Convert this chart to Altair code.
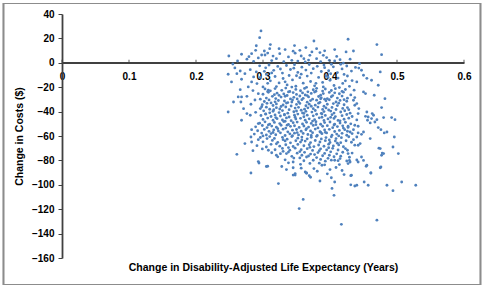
import altair as alt
import pandas as pd

# Tick values
x_ticks = [0, 0.1, 0.2, 0.3, 0.4, 0.5, 0.6]
y_ticks = [-160, -140, -120, -100, -80, -60, -40, -20, 0, 20, 40]

# Points: (change in DALE years, change in cost $)
above_zero = [
    (0.297, 26.1), (0.295, 20.6), (0.311, 14.9), (0.249, 5.6), (0.268, 7.0), (0.283, 7.5),
    (0.289, 10.2), (0.302, 9.7), (0.307, 8.0), (0.303, 6.4), (0.298, 6.4), (0.310, 11.6),
    (0.324, 11.6), (0.333, 10.8), (0.325, 7.5), (0.364, 12.5), (0.357, 5.6), (0.338, 4.8),
    (0.320, 3.4), (0.343, 2.0), (0.361, 3.4), (0.363, 0.7), (0.427, 19.3), (0.470, 14.9),
    (0.477, 6.7), (0.407, 10.8), (0.424, 8.9), (0.435, 9.7), (0.376, 17.9), (0.380, 11.6),
    (0.385, 8.4), (0.390, 6.1), (0.395, 4.3), (0.373, 8.9), (0.370, 6.1), (0.380, 3.4),
    (0.399, 2.0), (0.407, 1.5), (0.415, 2.6), (0.420, -0.2), (0.444, -0.7), (0.402, -1.2),
    (0.262, 1.5), (0.276, 3.0), (0.286, 1.2), (0.293, 4.0), (0.313, 1.8), (0.331, 0.9),
    (0.348, 7.9), (0.352, 1.4), (0.315, 5.5), (0.345, 9.5), (0.355, 10.2), (0.368, 2.2),
    (0.386, 1.0), (0.392, 9.8), (0.410, 5.2), (0.430, 3.0), (0.347, 14.1), (0.290, 14.0),
    (0.279, 5.0), (0.255, -1.0),
]

band_0_20 = [
    (0.248, -9.4), (0.253, -15.7), (0.261, -8.9), (0.266, -6.7), (0.273, -8.9), (0.281, -5.6),
    (0.286, -11.6), (0.290, -7.5), (0.278, -19.8), (0.283, -15.7), (0.300, -19.8),
    (0.295, -2.5), (0.304, -4.1), (0.309, -1.8), (0.316, -6.2), (0.322, -3.0), (0.329, -8.4),
    (0.335, -2.2), (0.341, -5.5), (0.347, -1.5), (0.352, -7.9), (0.358, -3.6), (0.364, -6.0),
    (0.369, -1.4), (0.375, -4.8), (0.381, -2.9), (0.387, -7.1), (0.392, -4.0), (0.398, -6.5),
    (0.405, -3.3), (0.411, -8.0), (0.418, -5.0), (0.425, -2.6), (0.432, -6.8), (0.438, -3.8),
    (0.475, -7.5), (0.447, -6.1), (0.450, -10.2), (0.440, -15.7), (0.472, -18.4), (0.462, -14.3),
    (0.296, -12.0), (0.305, -9.5), (0.311, -14.8), (0.318, -11.2), (0.324, -16.5), (0.330, -12.9),
    (0.336, -18.1), (0.339, -10.4), (0.344, -14.0), (0.349, -19.2), (0.355, -12.2), (0.360, -16.7),
    (0.366, -10.9), (0.371, -15.3), (0.377, -18.9), (0.383, -12.0), (0.389, -16.1), (0.394, -10.6),
    (0.400, -14.4), (0.406, -18.6), (0.412, -12.5), (0.419, -16.9), (0.426, -10.8), (0.433, -14.6),
    (0.455, -12.7), (0.429, -19.3), (0.414, -20.3), (0.390, -19.8), (0.365, -20.1), (0.343, -19.9),
    (0.320, -19.5), (0.307, -16.8), (0.291, -17.0), (0.268, -13.5), (0.258, -4.2), (0.302, -7.0),
    (0.326, -5.1), (0.350, -10.6), (0.372, -8.4), (0.397, -11.8), (0.421, -9.5), (0.443, -4.3),
    (0.313, -8.3), (0.333, -15.6), (0.357, -9.3), (0.379, -16.8), (0.401, -9.0), (0.423, -14.8),
    (0.346, -4.4), (0.391, -1.9), (0.416, -1.2),
]

band_20_40 = [
    (0.266, -22.0), (0.276, -27.5), (0.293, -25.3), (0.308, -22.5), (0.263, -28.0), (0.268, -28.0),
    (0.256, -32.1), (0.267, -32.1), (0.271, -37.6), (0.248, -40.3), (0.282, -34.0), (0.288, -30.5),
    (0.285, -22.8), (0.298, -36.0), (0.296, -29.8),
    (0.303, -21.4), (0.311, -23.0), (0.318, -21.1), (0.328, -22.6), (0.334, -20.7), (0.340, -23.5),
    (0.349, -21.8), (0.356, -22.9), (0.362, -21.0), (0.367, -23.8), (0.375, -22.1), (0.380, -20.9),
    (0.389, -23.2), (0.393, -21.5), (0.402, -22.7), (0.408, -21.2), (0.418, -23.4), (0.423, -21.9),
    (0.436, -22.4),
    (0.300, -25.8), (0.308, -24.2), (0.317, -26.1), (0.321, -24.9), (0.331, -25.5), (0.336, -26.8),
    (0.345, -24.4), (0.350, -25.9), (0.359, -24.7), (0.363, -26.4), (0.372, -25.1), (0.377, -24.0),
    (0.386, -26.6), (0.390, -25.2), (0.399, -24.3), (0.404, -26.9), (0.414, -25.4), (0.420, -24.1),
    (0.431, -26.3), (0.450, -23.9), (0.453, -25.2),
    (0.305, -28.9), (0.314, -27.5), (0.319, -29.3), (0.327, -28.1), (0.333, -27.4), (0.341, -29.6),
    (0.346, -28.3), (0.355, -27.2), (0.360, -29.1), (0.368, -28.0), (0.374, -29.8), (0.383, -27.6),
    (0.387, -28.7), (0.396, -29.4), (0.402, -27.8), (0.411, -28.9), (0.418, -27.3), (0.426, -29.0),
    (0.437, -28.5), (0.466, -26.6),
    (0.302, -31.7), (0.309, -30.4), (0.318, -32.0), (0.323, -30.9), (0.332, -31.3), (0.337, -32.6),
    (0.344, -30.5), (0.353, -31.9), (0.358, -30.2), (0.366, -32.3), (0.371, -31.0), (0.380, -30.6),
    (0.385, -32.4), (0.394, -31.2), (0.399, -30.3), (0.409, -32.1), (0.415, -30.8), (0.425, -31.5),
    (0.435, -30.7), (0.482, -29.4),
    (0.299, -34.3), (0.306, -33.2), (0.315, -35.0), (0.320, -33.7), (0.330, -34.6), (0.335, -33.0),
    (0.342, -35.4), (0.350, -34.1), (0.355, -33.3), (0.364, -35.2), (0.369, -33.9), (0.378, -34.7),
    (0.383, -33.1), (0.391, -35.6), (0.396, -34.0), (0.405, -33.4), (0.411, -35.1), (0.421, -34.4),
    (0.437, -34.8), (0.440, -33.4),
    (0.296, -37.5), (0.305, -36.4), (0.310, -38.1), (0.320, -36.8), (0.325, -37.9), (0.334, -36.2),
    (0.339, -38.4), (0.348, -37.1), (0.353, -36.5), (0.362, -38.0), (0.367, -36.9), (0.375, -37.6),
    (0.382, -36.3), (0.389, -38.2), (0.394, -37.0), (0.403, -36.6), (0.409, -38.3), (0.419, -37.4),
    (0.426, -36.7), (0.443, -37.5), (0.477, -36.7),
    (0.289, -40.6), (0.301, -39.4), (0.310, -41.0), (0.315, -39.7), (0.324, -40.8), (0.329, -39.2),
    (0.337, -41.3), (0.346, -40.1), (0.350, -39.5), (0.359, -41.1), (0.364, -39.8), (0.373, -40.4),
    (0.378, -39.1), (0.387, -41.4), (0.391, -40.0), (0.401, -39.6), (0.406, -41.2), (0.416, -40.3),
    (0.422, -39.3), (0.455, -40.3),
    (0.307, -23.6), (0.324, -26.7), (0.338, -23.9), (0.351, -29.6), (0.366, -26.9), (0.379, -23.3),
    (0.392, -29.8), (0.407, -24.6), (0.421, -30.2), (0.312, -32.9), (0.327, -35.8), (0.343, -32.2),
    (0.357, -38.9), (0.372, -35.6), (0.386, -29.5), (0.398, -38.7), (0.413, -33.1), (0.428, -38.4),
    (0.316, -38.5),
]

band_40_60 = [
    (0.276, -41.6), (0.281, -43.0), (0.268, -47.1), (0.283, -54.8), (0.293, -49.8), (0.442, -41.6),
    (0.457, -44.4), (0.462, -45.7), (0.456, -47.1), (0.465, -43.0), (0.467, -48.5), (0.460, -49.3),
    (0.463, -41.6), (0.453, -43.9), (0.470, -46.6), (0.480, -44.9), (0.492, -44.9), (0.497, -46.6),
    (0.472, -53.1), (0.476, -54.8), (0.485, -56.7), (0.481, -57.5), (0.447, -58.6), (0.450, -56.7),
    (0.442, -57.5), (0.437, -51.2), (0.442, -52.0), (0.427, -52.0), (0.435, -54.8), (0.430, -56.7),
    (0.433, -58.0),
    (0.297, -43.2), (0.304, -42.1), (0.312, -44.0), (0.318, -42.7), (0.326, -43.6), (0.332, -42.3),
    (0.339, -44.4), (0.347, -43.0), (0.352, -42.0), (0.361, -44.2), (0.366, -42.9), (0.375, -43.5),
    (0.380, -42.2), (0.388, -44.6), (0.393, -43.1), (0.403, -42.5), (0.408, -44.1), (0.418, -43.3),
    (0.425, -42.4), (0.433, -44.0),
    (0.300, -46.4), (0.307, -45.3), (0.315, -47.1), (0.321, -45.8), (0.329, -46.9), (0.335, -45.2),
    (0.342, -47.4), (0.349, -46.1), (0.356, -45.5), (0.363, -47.0), (0.369, -45.9), (0.377, -46.6),
    (0.384, -45.1), (0.391, -47.3), (0.397, -46.0), (0.406, -45.6), (0.412, -47.2), (0.421, -46.3),
    (0.428, -45.4), (0.440, -46.8),
    (0.295, -49.5), (0.303, -48.4), (0.310, -50.2), (0.317, -48.9), (0.325, -49.8), (0.331, -48.2),
    (0.338, -50.5), (0.345, -49.1), (0.351, -48.6), (0.359, -50.1), (0.365, -48.8), (0.372, -49.7),
    (0.379, -48.3), (0.386, -50.4), (0.392, -49.0), (0.400, -48.5), (0.407, -50.3), (0.415, -49.4),
    (0.423, -48.7), (0.431, -50.0),
    (0.289, -52.5), (0.299, -51.4), (0.306, -53.1), (0.313, -51.9), (0.320, -52.8), (0.327, -51.2),
    (0.334, -53.5), (0.341, -52.1), (0.347, -51.6), (0.354, -53.0), (0.361, -51.8), (0.368, -52.7),
    (0.375, -51.3), (0.382, -53.4), (0.389, -52.0), (0.396, -51.5), (0.404, -53.2), (0.411, -52.3),
    (0.419, -51.7), (0.427, -53.0),
    (0.292, -55.7), (0.302, -54.6), (0.309, -56.2), (0.316, -55.0), (0.323, -56.0), (0.330, -54.4),
    (0.337, -56.6), (0.344, -55.2), (0.350, -54.7), (0.357, -56.1), (0.364, -54.9), (0.371, -55.8),
    (0.378, -54.3), (0.385, -56.5), (0.392, -55.1), (0.399, -54.5), (0.407, -56.3), (0.414, -55.4),
    (0.422, -54.8),
    (0.287, -58.4), (0.298, -57.6), (0.305, -59.2), (0.312, -58.0), (0.319, -59.0), (0.326, -57.4),
    (0.333, -59.6), (0.340, -58.2), (0.347, -57.7), (0.353, -59.1), (0.360, -57.9), (0.367, -58.8),
    (0.374, -57.3), (0.381, -59.5), (0.388, -58.1), (0.395, -57.5), (0.403, -59.3), (0.410, -58.4),
    (0.418, -57.8), (0.425, -59.4),
    (0.304, -41.8), (0.319, -44.9), (0.333, -47.9), (0.348, -44.6), (0.361, -41.5), (0.374, -47.8),
    (0.388, -41.9), (0.401, -44.7), (0.415, -47.6), (0.430, -41.3), (0.308, -50.9), (0.322, -54.0),
    (0.336, -51.1), (0.351, -57.2), (0.365, -53.9), (0.379, -50.7), (0.393, -57.0), (0.406, -51.0),
    (0.420, -53.5), (0.332, -42.7),
]

band_60_80 = [
    (0.282, -60.8), (0.273, -66.2), (0.261, -75.0), (0.283, -64.9), (0.293, -63.0), (0.306, -62.1),
    (0.308, -71.7), (0.320, -75.8), (0.335, -74.4), (0.358, -75.8), (0.365, -77.2), (0.375, -79.9),
    (0.496, -60.8), (0.460, -62.1), (0.475, -70.3), (0.480, -74.4), (0.477, -75.8), (0.494, -69.0),
    (0.502, -74.4), (0.445, -66.2), (0.442, -67.6), (0.426, -71.7), (0.427, -74.4), (0.440, -60.8),
    (0.435, -63.0), (0.285, -72.0), (0.478, -74.0), (0.473, -70.0), (0.447, -77.2), (0.305, -69.0),
    (0.296, -61.2), (0.310, -60.5), (0.317, -62.0), (0.329, -61.1), (0.336, -62.6), (0.343, -60.4),
    (0.352, -61.8), (0.358, -60.9), (0.366, -62.3), (0.372, -61.0), (0.380, -60.3), (0.387, -62.4),
    (0.394, -61.3), (0.402, -60.7), (0.409, -62.1), (0.417, -61.4), (0.428, -60.6),
    (0.300, -64.8), (0.314, -63.6), (0.322, -65.2), (0.333, -64.0), (0.341, -65.6), (0.349, -63.9),
    (0.356, -65.0), (0.363, -64.2), (0.371, -65.4), (0.378, -63.7), (0.385, -64.9), (0.393, -63.8),
    (0.400, -65.3), (0.408, -64.1), (0.416, -65.5), (0.424, -63.9), (0.432, -65.1),
    (0.291, -67.9), (0.312, -66.8), (0.325, -68.3), (0.334, -67.2), (0.345, -68.6), (0.352, -66.9),
    (0.361, -68.0), (0.369, -67.1), (0.376, -68.7), (0.383, -67.4), (0.391, -68.4), (0.398, -66.7),
    (0.405, -68.1), (0.413, -67.3), (0.420, -68.8), (0.437, -67.5),
    (0.299, -70.6), (0.318, -71.3), (0.329, -70.2), (0.340, -71.6), (0.348, -70.0), (0.357, -71.2),
    (0.366, -70.4), (0.374, -71.8), (0.386, -70.5), (0.395, -71.4), (0.404, -70.1), (0.412, -71.5),
    (0.423, -70.3),
    (0.313, -73.7), (0.326, -74.5), (0.338, -73.2), (0.351, -74.1), (0.362, -73.4), (0.371, -74.8),
    (0.382, -73.6), (0.392, -74.3), (0.401, -73.0), (0.410, -74.6), (0.419, -73.3), (0.433, -74.0),
    (0.322, -77.1), (0.343, -76.7), (0.355, -78.0), (0.368, -76.4), (0.380, -77.7), (0.389, -76.2),
    (0.397, -78.3), (0.406, -77.0), (0.416, -76.5), (0.429, -77.4),
    (0.333, -79.5), (0.361, -80.3), (0.386, -79.2), (0.393, -80.6), (0.402, -79.8), (0.412, -80.2),
    (0.440, -79.7),
    (0.300, -59.9), (0.315, -57.1), (0.330, -63.0), (0.344, -59.8), (0.358, -63.3), (0.372, -59.5),
    (0.386, -56.9), (0.399, -63.2), (0.413, -59.9), (0.426, -56.1), (0.320, -66.4), (0.338, -69.5),
    (0.355, -72.8), (0.370, -69.3), (0.384, -72.0), (0.398, -69.6), (0.411, -65.9), (0.330, -72.6),
    (0.346, -78.1), (0.377, -75.2), (0.399, -75.8),
]

band_80_100 = [
    (0.294, -82.1), (0.307, -84.8), (0.282, -90.3), (0.345, -81.3), (0.348, -90.8), (0.335, -87.5),
    (0.363, -89.5), (0.376, -86.7), (0.388, -84.0), (0.400, -87.5), (0.407, -79.9), (0.415, -78.5),
    (0.425, -80.5), (0.293, -81.0), (0.305, -85.0), (0.365, -90.5), (0.348, -92.0), (0.345, -86.0),
    (0.450, -80.0), (0.455, -84.0), (0.475, -86.0), (0.476, -85.4), (0.461, -90.3), (0.454, -84.8),
    (0.442, -81.3), (0.430, -81.3), (0.427, -82.6), (0.432, -92.2), (0.429, -80.0),
    (0.356, -83.2), (0.370, -82.5), (0.381, -88.9), (0.392, -83.6), (0.396, -91.0), (0.409, -85.8),
    (0.418, -88.3), (0.371, -93.8), (0.357, -86.4), (0.328, -85.0), (0.338, -82.0), (0.384, -82.3),
    (0.414, -83.4), (0.421, -91.6), (0.402, -94.2),
]

band_low = [
    (0.323, -99.0), (0.345, -92.0), (0.365, -90.3), (0.369, -92.5), (0.360, -112.0),
    (0.354, -119.5), (0.385, -96.9), (0.407, -97.7), (0.403, -103.0), (0.406, -108.6),
    (0.417, -132.4), (0.431, -92.5), (0.431, -100.0), (0.437, -101.0), (0.440, -100.4),
    (0.451, -97.7), (0.457, -100.4), (0.461, -90.3), (0.470, -129.0), (0.485, -100.4),
    (0.494, -104.8), (0.507, -97.7), (0.528, -100.4),
]

pts = above_zero + band_0_20 + band_20_40 + band_40_60 + band_60_80 + band_80_100 + band_low
df = pd.DataFrame(pts, columns=["dale", "cost"])
ticks_df = pd.DataFrame({"dale": x_ticks, "cost": [0] * len(x_ticks)})

FONT = "Liberation Sans"
AX = "#404040"

x_scale = alt.Scale(domain=[0, 0.6], nice=False, zero=False)
y_scale = alt.Scale(domain=[-160, 40], nice=False, zero=False)

x_axis = alt.Axis(values=x_ticks, offset=-195.5, ticks=False, tickSize=0,
                  labelPadding=9, labelFlush=False, labelOverlap=False,
                  domainColor=AX, domainWidth=1.8, grid=False, format="~g",
                  title="Change in Disability-Adjusted Life Expectancy (Years)",
                  titleY=205, titleBaseline="middle")
y_axis = alt.Axis(values=y_ticks, grid=False, tickSize=4, labelPadding=4,
                  labelOverlap=False, labelFlush=False,
                  domainColor=AX, domainWidth=1.8, tickColor=AX,
                  title="Change in Costs ($)", titleX=-38)

X = alt.X("dale:Q", scale=x_scale, axis=x_axis)
Y = alt.Y("cost:Q", scale=y_scale, axis=y_axis)

points = alt.Chart(df).mark_circle(size=8, color="#4F81BD", opacity=1).encode(x=X, y=Y)

xticks = alt.Chart(ticks_df).mark_tick(orient="vertical", size=3, thickness=1.2,
                                       color=AX, yOffset=-1.5).encode(x=X, y=Y)

frame = alt.Chart(ticks_df).mark_rect(fill=None, stroke="#8c8c8c", strokeWidth=1.2,
                                      clip=False).encode(
    x=alt.value(-58.5), x2=alt.value(418.5), y=alt.value(-10.5), y2=alt.value(270.5)
)

chart = alt.layer(frame, points, xticks).properties(
    width=402, height=244,
    autosize=alt.AutoSizeParams(type="none"),
    padding={"left": 62, "top": 14, "right": 20, "bottom": 31},
    background="white",
).configure_view(stroke=None).configure_axis(
    labelFont=FONT, titleFont=FONT, labelFontSize=10, titleFontSize=10.5,
    labelFontWeight="bold", titleFontWeight="bold", labelColor="#000000",
    titleColor="#000000",
)

chart.save("out.html", embed_options={"renderer": "svg", "actions": False})
